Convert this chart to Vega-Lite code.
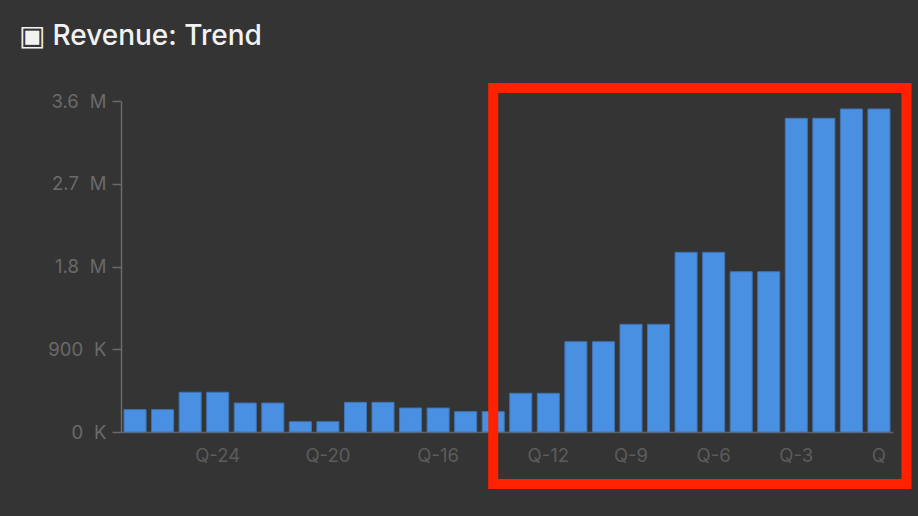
{
  "$schema": "https://vega.github.io/schema/vega-lite/v6.json",
  "autosize": {"type": "none"},
  "width": 772,
  "height": 331,
  "padding": {"left": 121, "top": 101, "right": 25, "bottom": 84},
  "background": "#343434",
  "config": {
    "view": {"stroke": null},
    "font": "Inter"
  },
  "title": {
    "text": "▣ Revenue: Trend",
    "anchor": "start",
    "frame": "group",
    "dx": -102,
    "baseline": "alphabetic",
    "offset": 10,
    "font": "Inter",
    "fontSize": 28,
    "fontWeight": 500,
    "color": "#f2f2f2"
  },
  "datasets": {
    "revenue": [
      {"quarter": "Q-27", "revenue": 243000},
      {"quarter": "Q-26", "revenue": 243000},
      {"quarter": "Q-25", "revenue": 432000},
      {"quarter": "Q-24", "revenue": 432000},
      {"quarter": "Q-23", "revenue": 315000},
      {"quarter": "Q-22", "revenue": 315000},
      {"quarter": "Q-21", "revenue": 112000},
      {"quarter": "Q-20", "revenue": 112000},
      {"quarter": "Q-19", "revenue": 323000},
      {"quarter": "Q-18", "revenue": 323000},
      {"quarter": "Q-17", "revenue": 261000},
      {"quarter": "Q-16", "revenue": 261000},
      {"quarter": "Q-15", "revenue": 221000},
      {"quarter": "Q-14", "revenue": 221000},
      {"quarter": "Q-13", "revenue": 421000},
      {"quarter": "Q-12", "revenue": 421000},
      {"quarter": "Q-11", "revenue": 982000},
      {"quarter": "Q-10", "revenue": 982000},
      {"quarter": "Q-9", "revenue": 1171000},
      {"quarter": "Q-8", "revenue": 1171000},
      {"quarter": "Q-7", "revenue": 1954000},
      {"quarter": "Q-6", "revenue": 1954000},
      {"quarter": "Q-5", "revenue": 1743000},
      {"quarter": "Q-4", "revenue": 1743000},
      {"quarter": "Q-3", "revenue": 3412000},
      {"quarter": "Q-2", "revenue": 3412000},
      {"quarter": "Q-1", "revenue": 3513000},
      {"quarter": "Q", "revenue": 3513000}
    ],
    "highlight": [
      {"from": "Q-14", "to": "Q", "top": 3741000, "bottom": -565000}
    ]
  },
  "layer": [
    {
      "data": {"name": "revenue"},
      "mark": {"type": "bar", "color": "#4a90e2", "stroke": "#3f74b3", "strokeWidth": 1},
      "encoding": {
        "x": {
          "field": "quarter",
          "type": "nominal",
          "title": null,
          "scale": {
            "domain": ["Q-27","Q-26","Q-25","Q-24","Q-23","Q-22","Q-21","Q-20","Q-19","Q-18","Q-17","Q-16","Q-15","Q-14","Q-13","Q-12","Q-11","Q-10","Q-9","Q-8","Q-7","Q-6","Q-5","Q-4","Q-3","Q-2","Q-1","Q"],
            "paddingInner": 0.2,
            "paddingOuter": 0.11
          },
          "axis": {
            "values": ["Q-24","Q-20","Q-16","Q-12","Q-9","Q-6","Q-3","Q"],
            "labelAngle": 0,
            "ticks": false,
            "labelPadding": 14,
            "labelFontSize": 18.5,
            "labelColor": "#5c5c5c",
            "domainColor": "#5f5f5f",
            "domainWidth": 1.5,
            "labelFont": "Inter"
          }
        },
        "y": {
          "field": "revenue",
          "type": "quantitative",
          "title": null,
          "scale": {"domain": [0, 3600000], "nice": false},
          "axis": {
            "values": [0, 900000, 1800000, 2700000, 3600000],
            "labelExpr": "datum.value >= 1000000 ? format(datum.value / 1000000, '.1f') + '\u2002\u200aM' : format(datum.value / 1000, 'd') + '\u2002\u200aK'",
            "grid": false,
            "tickSize": 9,
            "tickColor": "#6a6a6a",
            "tickWidth": 1.5,
            "domainColor": "#6a6a6a",
            "domainWidth": 1.5,
            "labelPadding": 6,
            "labelFontSize": 18.5,
            "labelColor": "#6a6a6a",
            "labelFont": "Inter"
          }
        }
      }
    },
    {
      "data": {"name": "highlight"},
      "mark": {"type": "rect", "fill": null, "fillOpacity": 0, "stroke": "#ff2200", "strokeWidth": 10, "clip": false},
      "encoding": {
        "x": {"field": "from", "type": "nominal", "bandPosition": 0.5},
        "x2": {"field": "to", "bandPosition": 1.75},
        "y": {"field": "top", "type": "quantitative"},
        "y2": {"field": "bottom"}
      }
    }
  ]
}
